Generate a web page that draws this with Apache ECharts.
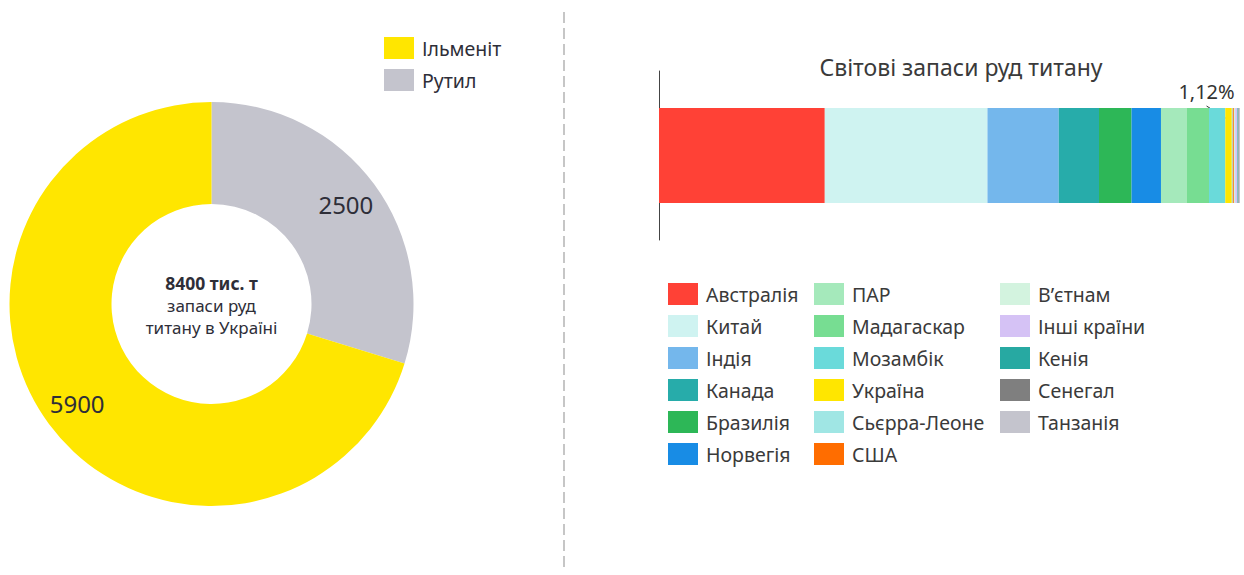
<!DOCTYPE html>
<html>
<head>
<meta charset="utf-8">
<script src="https://cdn.jsdelivr.net/npm/echarts@6/dist/echarts.min.js"></script>
<style>
  html, body { margin: 0; padding: 0; background: #ffffff; }
  #chart { width: 1244px; height: 575px; }
</style>
</head>
<body>
<div id="chart"></div>
<script>
// Запаси руд титану в Україні, тис. т (порядок секторів за годинниковою стрілкою від 12 години)
const oreTypes = ['Рутил', 'Ільменіт'];
const oreReserves = [2500, 5900];
const oreColors = ['#C4C4CD', '#FFE600'];
const oreLegendOrder = ['Ільменіт', 'Рутил'];

// Світові запаси руд титану за країнами, тис. т
const countries = [
  'Австралія', 'Китай', 'Індія', 'Канада', 'Бразилія', 'Норвегія',
  'ПАР', 'Мадагаскар', 'Мозамбік', 'Україна', 'Сьєрра-Леоне', 'США',
  'В’єтнам', 'Інші країни', 'Кенія', 'Сенегал', 'Танзанія'
];
const countryReserves = [
  214000, 210000, 92000, 52000, 42000, 38000,
  33000, 29000, 21000, 8400, 1300, 1400,
  1600, 3000, 1000, 800, 1500
];
const countryColors = [
  '#FF4136', '#CFF3F1', '#74B7EC', '#27ACAA', '#2DB757', '#188CE5',
  '#A5E9BB', '#77DD92', '#6ADADA', '#FFE600', '#A0E6E4', '#FF6D00',
  '#D3F3DF', '#D5C2F5', '#27A9A2', '#7F7F7F', '#C4C4CD'
];
const labelledCountry = 'Україна';

const FONT = 'Noto Sans, sans-serif';
const TEXT = '#2E2E38';

const oreTotal = oreReserves.reduce((a, b) => a + b, 0);
const worldTotal = countryReserves.reduce((a, b) => a + b, 0);

const pieCenter = [211.5, 304];
const pieRadius = [100, 202];
const labelRadius = 167;
const BAR_WIDTH = 95;
const LABEL_SHIFT = -22;

const chart = echarts.init(document.getElementById('chart'), null, { renderer: 'svg' });

const barSeries = countries.map((name, i) => {
  const s = {
    name: name,
    type: 'bar',
    stack: 'world',
    barWidth: BAR_WIDTH,
    data: [countryReserves[i]],
    itemStyle: { color: countryColors[i] },
    emphasis: { disabled: true }
  };
  if (name === labelledCountry) {
    s.label = {
      show: true,
      position: 'top',
      distance: 6,
      fontFamily: FONT,
      fontSize: 20,
      color: '#333333',
      formatter: p => (p.value / worldTotal * 100).toFixed(2).replace('.', ',') + '%'
    };
    s.labelLayout = { dx: LABEL_SHIFT, dy: -1 };
  }
  return s;
});

const legendColumns = [countries.slice(0, 6), countries.slice(6, 12), countries.slice(12)];
const legendLefts = [668, 814, 1000];
const countryLegends = legendColumns.map((col, k) => ({
  data: col,
  orient: 'vertical',
  left: legendLefts[k],
  top: 283,
  padding: 0,
  itemWidth: 30,
  itemHeight: 22,
  itemGap: 10,
  icon: 'rect',
  selectedMode: false,
  textStyle: { fontFamily: FONT, fontSize: 19.5, color: '#3A3A3A', padding: [0, 0, 0, 3] }
}));

const option = {
  backgroundColor: '#ffffff',
  animation: false,
  textStyle: { fontFamily: FONT },
  legend: [{
    data: oreLegendOrder,
    orient: 'vertical',
    left: 384,
    top: 37,
    padding: 0,
    itemWidth: 30,
    itemHeight: 22,
    itemGap: 10,
    icon: 'rect',
    selectedMode: false,
    textStyle: { fontFamily: FONT, fontSize: 19.5, color: TEXT, padding: [0, 0, 0, 3] }
  }].concat(countryLegends),
  grid: { left: 659, right: 4, top: 71, height: 169, containLabel: false },
  xAxis: { type: 'value', min: 0, max: worldTotal, show: false },
  yAxis: {
    type: 'category',
    data: ['Світ'],
    axisLine: { show: true, lineStyle: { color: '#444444', width: 1 } },
    axisTick: { show: false },
    axisLabel: { show: false },
    splitLine: { show: false }
  },
  graphic: [
    {
      type: 'line',
      shape: { x1: 564, y1: 12, x2: 564, y2: 572 },
      style: { stroke: '#B4B4B4', lineWidth: 1.5, lineDash: [11, 5] },
      silent: true
    },
    {
      type: 'text',
      x: 961, y: 67,
      style: {
        text: 'Світові запаси руд титану',
        align: 'center', verticalAlign: 'middle',
        fontFamily: FONT, fontSize: 23, fill: '#3A3A3A'
      }
    },
    {
      type: 'text',
      x: pieCenter[0], y: 305,
      style: {
        text: '{b|' + oreTotal + ' тис. т}\n{n|запаси руд}\n{n|титану в Україні}',
        align: 'center', verticalAlign: 'middle',
        fill: TEXT,
        rich: {
          b: { fontFamily: FONT, fontSize: 17.5, fontWeight: 'bold', lineHeight: 22, fill: TEXT, align: 'center' },
          n: { fontFamily: FONT, fontSize: 17, lineHeight: 22, fill: TEXT, align: 'center' }
        }
      }
    }
  ],
  series: [{
    name: 'Запаси руд титану в Україні',
    type: 'pie',
    center: pieCenter,
    radius: pieRadius,
    startAngle: 90,
    clockwise: true,
    silent: true,
    data: oreTypes.map((n, i) => ({ name: n, value: oreReserves[i], itemStyle: { color: oreColors[i] } })),
    label: {
      show: true,
      position: 'inside',
      formatter: '{c}',
      fontFamily: FONT,
      fontSize: 24,
      color: TEXT
    },
    labelLine: { show: false },
    // push the value labels a little further out along their radius
    labelLayout: function (params) {
      const r = params.labelRect;
      const cx = r.x + r.width / 2 - pieCenter[0];
      const cy = r.y + r.height / 2 - pieCenter[1];
      const d = Math.sqrt(cx * cx + cy * cy) || 1;
      const k = labelRadius / d - 1;
      return { dx: cx * k, dy: cy * k };
    }
  }].concat(barSeries)
};

chart.setOption(option);

// leader line from the percentage label down into its bar segment
const idx = countries.indexOf(labelledCountry);
const before = countryReserves.slice(0, idx).reduce((a, b) => a + b, 0);
const p0 = chart.convertToPixel({ gridIndex: 0 }, [before, 0]);
const p1 = chart.convertToPixel({ gridIndex: 0 }, [before + countryReserves[idx], 0]);
const segMid = (p0[0] + p1[0]) / 2;
const barTop = p0[1] - BAR_WIDTH / 2;
option.graphic.push({
  type: 'line',
  silent: true,
  shape: { x1: segMid + LABEL_SHIFT, y1: barTop - 2, x2: segMid - 3, y2: barTop + 10 },
  style: { stroke: '#333333', lineWidth: 1 }
});
chart.setOption({ graphic: option.graphic });
</script>
</body>
</html>
